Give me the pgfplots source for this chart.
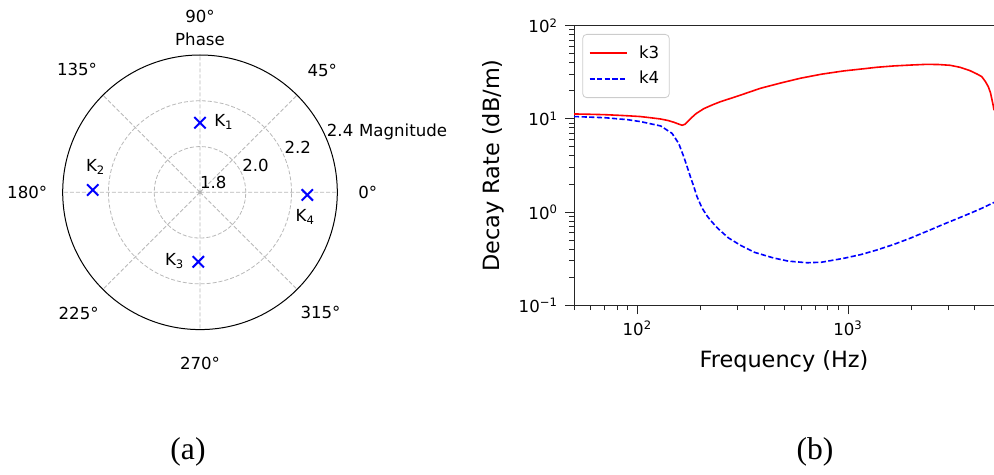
\documentclass[border=0pt]{standalone}
\usepackage{fontspec}
\setmainfont{DejaVu Sans}
\newfontfamily\capfont{Liberation Serif}
\usepackage{pgfplots}
\usepackage{pgfplotstable}
\pgfplotsset{compat=1.18}
\usepgfplotslibrary{polar}

\newcommand{\tickfont}{\fontsize{8.3}{10}\selectfont}
\newcommand{\labelfont}{\fontsize{11.2}{13.4}\selectfont}

% decay rate of the two modes (frequency in Hz, dB/m)
\pgfplotstableread{
f     k
50    11.3
60    11.2
70    11.1
80    10.95
90    10.8
103   10.6
115   10.3
129   9.97
140   9.6
149   9.2
157   8.8
163   8.55
168   8.75
173   9.3
179   10.1
190   11.4
207   12.9
228   14.2
248   15.3
300   17.6
384   21.3
480   24.3
594   27.3
750   30.2
953   32.7
1200  34.6
1371  35.8
1650  37.0
1972  37.8
2366  38.5
2700  38.3
3054  37.6
3400  35.8
3800  32.9
4100  30.3
4317  28.4
4500  25.0
4638  22.1
4750  19.0
4812  16.6
4880  14.3
4935  12.4
}\kthree
\pgfplotstableread{
f     k
50    10.6
70    10.3
90    9.8
104   9.33
129   8.4
146   7.0
157   5.47
166   3.93
172   3.1
179   2.35
185   1.9
192   1.46
203   1.1
215   0.9
222   0.82
239   0.68
270   0.53
309   0.44
360   0.37
443   0.322
520   0.298
640   0.286
750   0.29
953   0.319
1150  0.35
1371  0.392
1650  0.45
1972  0.524
2400  0.63
2838  0.74
3300  0.85
3800  0.97
4400  1.12
4935  1.27
}\kfour

\begin{document}
\begin{tikzpicture}
\useasboundingbox (0,0) rectangle (497pt,237.5pt);

% ---------- (a) polar plot of the wavenumbers ----------
\begin{polaraxis}[
  at={(100pt,141.35pt)}, anchor=center,
  scale only axis, width=137.3pt, height=137.3pt,
  ymin=0, ymax=0.6,
  xtick={0,45,...,315}, ytick={0.2,0.4},
  xticklabels={}, yticklabels={},
  tick style={draw=none},
  grid=major,
  major grid style={dash pattern=on 2pt off 1pt, color=black!28, line width=0.4pt},
  x axis line style={black, line width=0.5pt},
  y axis line style={draw=none},
  y filter/.expression={y-1.8},
  clip=false,
]
\addplot[only marks, mark=x, mark size=4pt, color=blue,
  mark options={line width=1pt}] coordinates {
  (90,2.104) (178.75,2.269) (268.6,2.104) (358.6,2.269)
};
\fill[black!30] (axis cs:0,0) circle (0.8pt);
% phase labels
\node[font=\tickfont] at (axis cs:0,0.733)   {0°};
\node[font=\tickfont] at (axis cs:45,0.756)  {45°};
\node[font=\tickfont] at (axis cs:90,0.767)  {90°};
\node[font=\tickfont] at (axis cs:135,0.760) {135°};
\node[font=\tickfont] at (axis cs:180,0.755) {180°};
\node[font=\tickfont] at (axis cs:225,0.750) {225°};
\node[font=\tickfont] at (axis cs:270,0.747) {270°};
\node[font=\tickfont] at (axis cs:315,0.745) {315°};
\node[font=\tickfont] at (axis cs:90,0.669)  {Phase};
% magnitude labels along 22.5 degrees
\node[font=\tickfont, xshift=6.65pt, yshift=4.8pt] at (axis cs:22.5,0)   {1.8};
\node[font=\tickfont, xshift=6.65pt, yshift=4.8pt] at (axis cs:22.5,0.2) {2.0};
\node[font=\tickfont, xshift=6.65pt, yshift=4.8pt] at (axis cs:22.5,0.4) {2.2};
\node[font=\tickfont, xshift=6.65pt, yshift=4.8pt, inner sep=0pt] (r24) at (axis cs:22.5,0.6) {2.4};
\node[font=\tickfont, anchor=base west, inner sep=0pt, xshift=2.5pt] at (r24.base east) {Magnitude};
% mode names
\node[font=\tickfont, xshift=12pt, yshift=0.3pt]  at (axis cs:90,0.304)    {K\textsubscript{1}};
\node[font=\tickfont, xshift=1.5pt, yshift=11.7pt] at (axis cs:178.75,0.469) {K\textsubscript{2}};
\node[font=\tickfont, xshift=-11.8pt, yshift=0.5pt] at (axis cs:268.6,0.304) {K\textsubscript{3}};
\node[font=\tickfont, xshift=-1pt, yshift=-10.8pt] at (axis cs:358.6,0.469)  {K\textsubscript{4}};
\end{polaraxis}

% ---------- (b) decay rate against frequency ----------
\begin{axis}[
  at={(287pt,84.85pt)}, anchor=south west,
  scale only axis, width=210pt, height=139.8pt,
  xmode=log, ymode=log,
  xmin=50, xmax=4935, ymin=0.1, ymax=100,
  axis x line=box, axis y line=left,
  axis line style={-, black!85, line width=0.5pt},
  every outer x axis line/.append style={-},
  every outer y axis line/.append style={-},
  xtick pos=left, ytick pos=left,
  tick align=outside,
  major tick length=4.5pt, minor tick length=2.4pt,
  tick style={black!85, line width=0.5pt},
  xtick={100,1000},
  xticklabels={10\textsuperscript{2},10\textsuperscript{3}},
  minor xtick={50,60,70,80,90,200,300,400,500,600,700,800,900,2000,3000,4000},
  ytick={0.1,1,10,100},
  yticklabels={10\textsuperscript{−1},10\textsuperscript{0},10\textsuperscript{1},10\textsuperscript{2}},
  minor ytick={0.2,0.3,0.4,0.5,0.6,0.7,0.8,0.9,2,3,4,5,6,7,8,9,20,30,40,50,60,70,80,90},
  tick label style={font=\tickfont},
  xlabel={Frequency (Hz)}, ylabel={Decay Rate (dB/m)},
  every axis x label/.style={at={(axis description cs:0.5,-0.2017)}, anchor=center,
    font=\labelfont},
  every axis y label/.style={at={(axis description cs:-0.1929,0.5)}, anchor=center,
    rotate=90, font=\labelfont},
  legend style={at={(0,1)}, anchor=north west, xshift=4.15pt, yshift=-4.15pt,
    draw=black!20, rounded corners=2pt, fill=white, font=\tickfont,
    inner xsep=3pt, inner ysep=3.5pt, row sep=1pt},
  legend cell align=left,
  legend image code/.code={\draw[#1] (0pt,0pt) -- (18.9pt,0pt); \path (22.4pt,0pt);},
]
\addplot[color=red, line width=0.8pt] table[x=f, y=k] {\kthree};
\addlegendentry{k3}
\addplot[color=blue, line width=0.8pt, dash pattern=on 2.6pt off 1.2pt] table[x=f, y=k] {\kfour};
\addlegendentry{k4}
\end{axis}

\node[font=\capfont\fontsize{15.8}{18}\selectfont] at (94pt,11.5pt) {(a)};
\node[font=\capfont\fontsize{15.8}{18}\selectfont] at (407.5pt,11.5pt) {(b)};
\end{tikzpicture}
\end{document}
